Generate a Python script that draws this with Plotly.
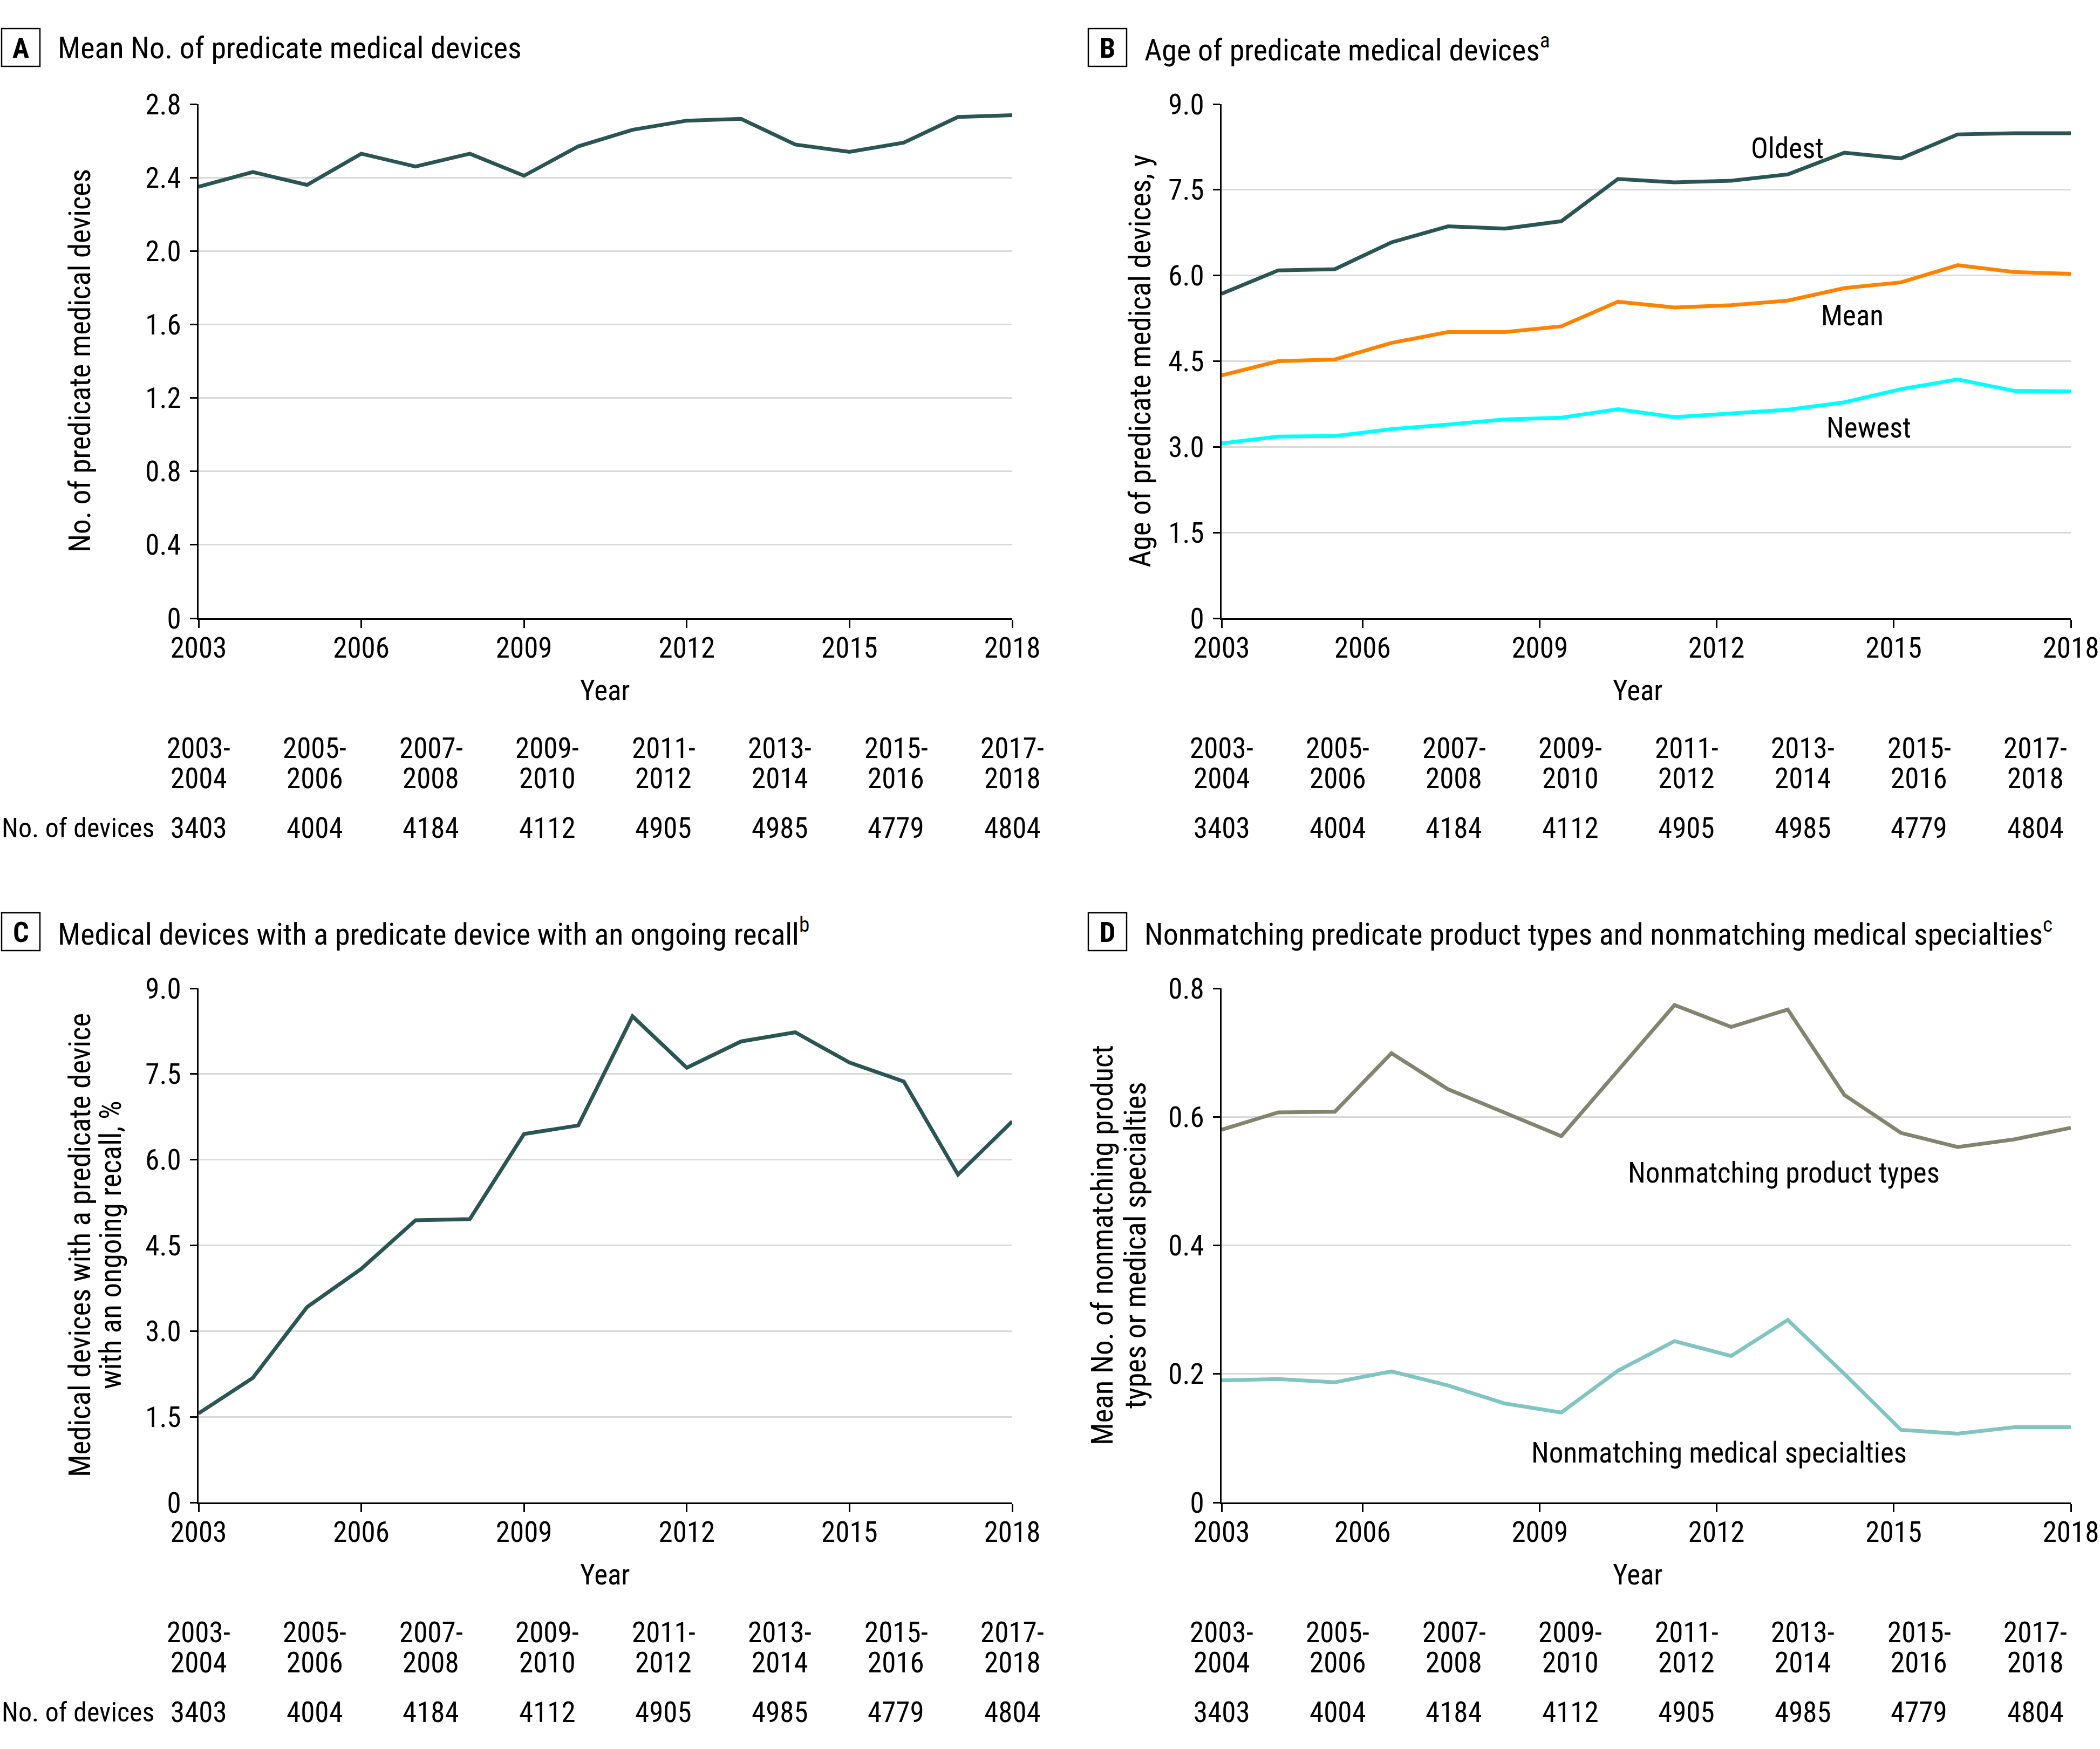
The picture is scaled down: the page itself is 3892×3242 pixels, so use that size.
import plotly.graph_objects as go

# ---------------- data ----------------
years = list(range(2003, 2019))
mean_predicates = [2.35, 2.43, 2.36, 2.53, 2.46, 2.53, 2.41, 2.57, 2.66, 2.71, 2.72, 2.58, 2.54, 2.59, 2.73, 2.74]
age_oldest = [5.68, 6.09, 6.11, 6.58, 6.86, 6.82, 6.95, 7.69, 7.63, 7.66, 7.77, 8.15, 8.05, 8.47, 8.49, 8.49]
age_mean = [4.25, 4.50, 4.53, 4.82, 5.01, 5.01, 5.11, 5.54, 5.44, 5.48, 5.56, 5.78, 5.88, 6.18, 6.06, 6.03]
age_newest = [3.06, 3.18, 3.19, 3.31, 3.39, 3.48, 3.51, 3.66, 3.52, 3.58, 3.65, 3.78, 4.01, 4.18, 3.98, 3.97]
recall_pct = [1.56, 2.18, 3.42, 4.09, 4.94, 4.96, 6.45, 6.60, 8.51, 7.61, 8.07, 8.23, 7.70, 7.37, 5.74, 6.67]
nonmatch_types = [0.580, 0.607, 0.608, 0.699, 0.643, 0.607, 0.570, 0.672, 0.774, 0.740, 0.767, 0.634, 0.575, 0.553, 0.565, 0.583]
nonmatch_spec = [0.190, 0.192, 0.187, 0.204, 0.182, 0.154, 0.140, 0.205, 0.251, 0.228, 0.284, 0.200, 0.113, 0.107, 0.117, 0.117]

period_top = ["2003-", "2005-", "2007-", "2009-", "2011-", "2013-", "2015-", "2017-"]
period_bottom = ["2004", "2006", "2008", "2010", "2012", "2014", "2016", "2018"]
n_devices = ["3403", "4004", "4184", "4112", "4905", "4985", "4779", "4804"]

x_tick_labels = ["2003", "2006", "2009", "2012", "2015", "2018"]
x_ticks_regular = [2003, 2006, 2009, 2012, 2015, 2018]
x_ticks_shifted = [2003, 2005.49, 2008.62, 2011.74, 2014.87, 2018]  # as drawn in panels B and D

yA_ticks = [0, 0.4, 0.8, 1.2, 1.6, 2.0, 2.4, 2.8]
yA_labels = ["0", "0.4", "0.8", "1.2", "1.6", "2.0", "2.4", "2.8"]
yB_ticks = [0, 1.5, 3.0, 4.5, 6.0, 7.5, 9.0]
yB_labels = ["0", "1.5", "3.0", "4.5", "6.0", "7.5", "9.0"]
yD_ticks = [0, 0.2, 0.4, 0.6, 0.8]
yD_labels = ["0", "0.2", "0.4", "0.6", "0.8"]

# ---------------- style ----------------
W, H = 3892, 3242
FONT = "Roboto Condensed, Noto Sans Condensed, Liberation Sans Narrow, DejaVu Sans Condensed, Lato, sans-serif"
TICK_SIZE = 53
TITLE_SIZE = 56
YTITLE_SIZE = 55
DARK = "#2b5552"
ORANGE = "#ff8300"
CYAN = "#00ffff"
OLIVE = "#838470"
LTEAL = "#80c5c2"
GRID = "#d9d9d9"
LW = 7


def px(x):
    return x / W


def py(y):
    return 1 - y / H


# pixel layout
A_x0, A_x1 = 368, 1876
B_x0, B_x1 = 2264, 3838
top_y0, top_y1 = 193, 1146
ROW_SHIFT = 1639

fig = go.Figure()

panels = [
    ("A", "x", "y", A_x0, A_x1, top_y0, top_y1),
    ("B", "x2", "y2", B_x0, B_x1, top_y0, top_y1),
    ("C", "x3", "y3", A_x0, A_x1, top_y0 + ROW_SHIFT, top_y1 + ROW_SHIFT),
    ("D", "x4", "y4", B_x0, B_x1, top_y0 + ROW_SHIFT, top_y1 + ROW_SHIFT),
]

fig.add_trace(go.Scatter(x=years, y=mean_predicates, mode="lines", line=dict(color=DARK, width=LW),
                         xaxis="x", yaxis="y", showlegend=False))
fig.add_trace(go.Scatter(x=years, y=age_oldest, mode="lines", line=dict(color=DARK, width=LW),
                         xaxis="x2", yaxis="y2", showlegend=False))
fig.add_trace(go.Scatter(x=years, y=age_mean, mode="lines", line=dict(color=ORANGE, width=LW),
                         xaxis="x2", yaxis="y2", showlegend=False))
fig.add_trace(go.Scatter(x=years, y=age_newest, mode="lines", line=dict(color=CYAN, width=LW),
                         xaxis="x2", yaxis="y2", showlegend=False))
fig.add_trace(go.Scatter(x=years, y=recall_pct, mode="lines", line=dict(color=DARK, width=LW),
                         xaxis="x3", yaxis="y3", showlegend=False))
fig.add_trace(go.Scatter(x=years, y=nonmatch_types, mode="lines", line=dict(color=OLIVE, width=LW),
                         xaxis="x4", yaxis="y4", showlegend=False))
fig.add_trace(go.Scatter(x=years, y=nonmatch_spec, mode="lines", line=dict(color=LTEAL, width=LW),
                         xaxis="x4", yaxis="y4", showlegend=False))

layout = dict(
    template="none",
    width=W, height=H,
    margin=dict(l=0, r=0, t=0, b=0, pad=0, autoexpand=False),
    paper_bgcolor="white", plot_bgcolor="white",
    font=dict(family=FONT, size=TICK_SIZE, color="black"),
    showlegend=False,
)

ytick_sets = {"A": (yA_ticks, yA_labels, [0, 2.8]),
              "B": (yB_ticks, yB_labels, [0, 9.0]),
              "C": (yB_ticks, yB_labels, [0, 9.0]),
              "D": (yD_ticks, yD_labels, [0, 0.8])}

for name, xa, ya, x0, x1, yt, yb in panels:
    xkey = "xaxis" if xa == "x" else "xaxis" + xa[1:]
    ykey = "yaxis" if ya == "y" else "yaxis" + ya[1:]
    xt = x_ticks_regular if name in ("A", "C") else x_ticks_shifted
    layout[xkey] = dict(
        domain=[px(x0), px(x1)], anchor=ya, range=[2003, 2018], automargin=False,
        tickmode="array", tickvals=xt, ticktext=x_tick_labels,
        ticks="outside", ticklen=15, tickwidth=2.5, tickcolor="black",
        showline=True, linecolor="black", linewidth=2.5,
        showgrid=False, zeroline=False, fixedrange=True,
        tickfont=dict(family=FONT, size=TICK_SIZE, color="black"),
        ticklabelstandoff=-8, ticklabeloverflow="allow",
    )
    tv, tl, rng = ytick_sets[name]
    layout[ykey] = dict(
        domain=[py(yb), py(yt)], anchor=xa, range=rng, automargin=False,
        tickmode="array", tickvals=tv, ticktext=tl,
        ticks="outside", ticklen=13, tickwidth=2.5, tickcolor="black",
        showline=True, linecolor="black", linewidth=2.5,
        showgrid=True, gridcolor=GRID, gridwidth=3, zeroline=False, fixedrange=True,
        tickfont=dict(family=FONT, size=TICK_SIZE, color="black"),
        ticklabelstandoff=6, ticklabeloverflow="allow",
    )

fig.update_layout(**layout)

ann = []
shapes = []


def text(x, y, s, size=TICK_SIZE, xanchor="center", yanchor="middle", angle=0, bold=False, xref="paper", yref="paper"):
    ann.append(dict(x=x, y=y, xref=xref, yref=yref, text=("<b>%s</b>" % s) if bold else s,
                    showarrow=False, xanchor=xanchor, yanchor=yanchor, textangle=angle,
                    font=dict(family=FONT, size=size, color="black")))


titles = {
    "A": "Mean No. of predicate medical devices",
    "B": "Age of predicate medical devices<sup>a</sup>",
    "C": "Medical devices with a predicate device with an ongoing recall<sup>b</sup>",
    "D": "Nonmatching predicate product types and nonmatching medical specialties<sup>c</sup>",
}
box_left = {"A": 3, "B": 2017, "C": 3, "D": 2017}

for name, xa, ya, x0, x1, yt, yb in panels:
    shift = 0 if name in ("A", "B") else ROW_SHIFT
    bx = box_left[name]
    shapes.append(dict(type="rect", xref="paper", yref="paper",
                       x0=px(bx), x1=px(bx + 71), y0=py(53 + shift), y1=py(123 + shift),
                       line=dict(color="black", width=2.5), fillcolor="rgba(0,0,0,0)"))
    text(px(bx + 35.5), py(89 + shift), name, size=52, bold=True)
    text(px(bx + 102), py(89 + shift), titles[name], size=TITLE_SIZE, xanchor="left")
    xc = 1121 if name in ("A", "C") else 3035
    text(px(xc), py(1280 + shift), "Year")
    colw = (A_x1 - A_x0) / 7.0
    for k in range(8):
        cx = x0 + k * colw
        text(px(cx), py(1387 + shift), period_top[k])
        text(px(cx), py(1443 + shift), period_bottom[k])
        text(px(cx), py(1535 + shift), n_devices[k])
    if name in ("A", "C"):
        text(px(1), py(1535 + shift), "No. of devices", size=50, xanchor="left")

text(px(148), py(669), "No. of predicate medical devices", size=YTITLE_SIZE, angle=-90)
text(px(2113), py(669), "Age of predicate medical devices, y", size=YTITLE_SIZE, angle=-90)
text(px(148), py(669 + ROW_SHIFT), "Medical devices with a predicate device", size=YTITLE_SIZE, angle=-90)
text(px(205), py(669 + ROW_SHIFT), "with an ongoing recall, %", size=YTITLE_SIZE, angle=-90)
text(px(2043), py(669 + ROW_SHIFT), "Mean No. of nonmatching product", size=YTITLE_SIZE, angle=-90)
text(px(2104), py(669 + ROW_SHIFT), "types or medical specialties", size=YTITLE_SIZE, angle=-90)

text(2012.99, 8.23, "Oldest", xref="x2", yref="y2")
text(2014.14, 5.30, "Mean", xref="x2", yref="y2")
text(2014.43, 3.33, "Newest", xref="x2", yref="y2")
text(2012.93, 0.513, "Nonmatching product types", xref="x4", yref="y4")
text(2011.79, 0.077, "Nonmatching medical specialties", xref="x4", yref="y4")

fig.update_layout(annotations=ann, shapes=shapes)
fig.write_html("out.html", config={"displayModeBar": False},
               post_script="document.body.style.margin='0';")
